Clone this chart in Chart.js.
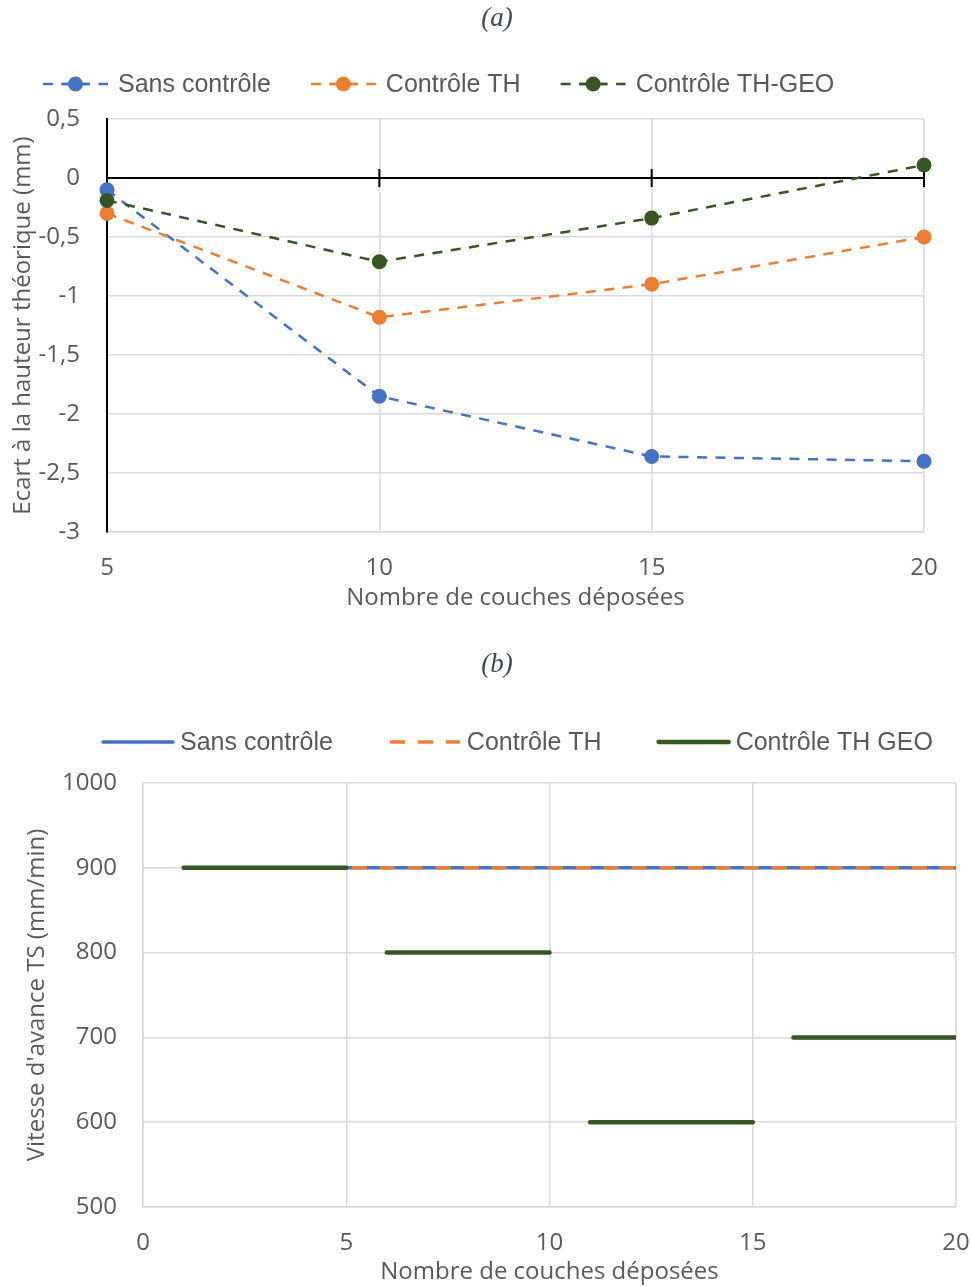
<!DOCTYPE html>
<html lang="fr">
<head>
<meta charset="utf-8">
<script src="https://cdn.jsdelivr.net/npm/chart.js@4.4.1/dist/chart.umd.min.js"></script>
<style>
  html, body { margin: 0; padding: 0; background: #fff; }
  .box { position: absolute; left: 0; width: 972px; }
  #boxA { top: 0; height: 625px; }
  #boxB { top: 625px; height: 662px; }
</style>
</head>
<body>
<div class="box" id="boxA"><canvas id="chartA"></canvas></div>
<div class="box" id="boxB"><canvas id="chartB"></canvas></div>
<script>
// (a) écart à la hauteur théorique, mesuré toutes les 5 couches
const couchesA = [5, 10, 15, 20];
const ecartSans = [-0.1, -1.85, -2.36, -2.4];
const ecartTH = [-0.3, -1.18, -0.9, -0.5];
const ecartTHGEO = [-0.19, -0.71, -0.34, 0.11];

// (b) vitesse d'avance TS par couche
const couchesB = [1, 2, 3, 4, 5, 6, 7, 8, 9, 10, 11, 12, 13, 14, 15, 16, 17, 18, 19, 20];
const vitesseSans = [900, 900, 900, 900, 900, 900, 900, 900, 900, 900, 900, 900, 900, 900, 900, 900, 900, 900, 900, 900];
const vitesseTH = [900, 900, 900, 900, 900, 900, 900, 900, 900, 900, 900, 900, 900, 900, 900, 900, 900, 900, 900, 900];
const vitesseTHGEO = [900, 900, 900, 900, 900, 800, 800, 800, 800, 800, 600, 600, 600, 600, 600, 700, 700, 700, 700, 700];

const BLUE = '#4472C4';
const ORANGE = '#ED7D31';
const GREEN = '#375623';
const GRID = '#D9D9D9';
const TEXT = '#595959';

Chart.defaults.font.family = "'Open Sans', sans-serif";
Chart.defaults.color = TEXT;

const toPoints = (xs, ys) => xs.map((x, i) => ({ x: x, y: ys[i] }));

// sub-figure caption, "(a)" / "(b)"
const caption = {
    id: 'caption',
    afterDraw(chart, args, opts) {
        const ctx = chart.ctx;
        ctx.save();
        ctx.font = opts.font;
        ctx.fillStyle = opts.color;
        ctx.textAlign = 'center';
        ctx.textBaseline = 'middle';
        ctx.fillText(opts.text, opts.x, opts.y);
        ctx.restore();
    }
};

// legend drawn as one row: sample line (+ marker), then label
const legendRow = {
    id: 'legendRow',
    afterDraw(chart, args, opts) {
        const ctx = chart.ctx;
        ctx.save();
        ctx.font = opts.font;
        ctx.textBaseline = 'middle';
        let x = opts.x;
        const y = opts.y;
        chart.data.datasets.forEach(ds => {
            const w = opts.sampleWidth;
            ctx.strokeStyle = ds.borderColor;
            ctx.lineWidth = ds.borderWidth;
            ctx.lineCap = ds.borderDash ? 'butt' : 'round';
            ctx.setLineDash(ds.borderDash || []);
            ctx.beginPath();
            ctx.moveTo(x, y);
            ctx.lineTo(x + w, y);
            ctx.stroke();
            if (ds.pointRadius > 0) {
                ctx.setLineDash([]);
                ctx.beginPath();
                ctx.moveTo(x + w / 2 - 14, y);
                ctx.lineTo(x + w / 2 + 14, y);
                ctx.stroke();
                ctx.fillStyle = ds.borderColor;
                ctx.beginPath();
                ctx.arc(x + w / 2, y, ds.pointRadius, 0, Math.PI * 2);
                ctx.fill();
            }
            x += w + opts.gap;
            ctx.fillStyle = opts.color;
            ctx.fillText(ds.label, x, y + 1.5);
            x += ctx.measureText(ds.label).width + opts.spacing;
        });
        ctx.restore();
    }
};

// black horizontal axis at y = 0 with crossing tick marks
const zeroLine = {
    id: 'zeroLine',
    beforeDatasetsDraw(chart) {
        const { ctx, chartArea, scales: { x, y } } = chart;
        const y0 = y.getPixelForValue(0);
        ctx.save();
        ctx.strokeStyle = '#000';
        ctx.lineWidth = 2;
        ctx.beginPath();
        ctx.moveTo(chartArea.left, y0);
        ctx.lineTo(chartArea.right, y0);
        x.ticks.forEach(t => {
            if (t.value > x.min) {
                const px = x.getPixelForValue(t.value);
                ctx.moveTo(px, y0 - 9);
                ctx.lineTo(px, y0 + 9);
            }
        });
        ctx.stroke();
        ctx.restore();
    }
};

function lineA(label, values, color, order) {
    return {
        label: label,
        data: toPoints(couchesA, values),
        borderColor: color,
        backgroundColor: color,
        borderWidth: 2.5,
        borderDash: [10, 8.5],
        pointRadius: 7.5,
        pointHoverRadius: 7.5,
        pointBorderWidth: 0,
        pointBackgroundColor: color,
        clip: false,
        order: order
    };
}

const captionFont = "italic 27px 'Liberation Serif', serif";

new Chart(document.getElementById('chartA'), {
    type: 'line',
    data: {
        datasets: [
            lineA('Sans contrôle', ecartSans, BLUE, 3),
            lineA('Contrôle TH', ecartTH, ORANGE, 2),
            lineA('Contrôle TH-GEO', ecartTHGEO, GREEN, 1)
        ]
    },
    options: {
        responsive: true,
        maintainAspectRatio: false,
        animation: false,
        layout: { padding: { left: 0, right: 48, top: 119, bottom: 0 } },
        plugins: {
            legend: { display: false },
            tooltip: { enabled: false },
            caption: { text: '(a)', x: 497, y: 19, font: captionFont, color: '#3f4650' },
            legendRow: {
                x: 43, y: 84, sampleWidth: 65, gap: 10, spacing: 40,
                font: "25px 'Liberation Sans', sans-serif", color: TEXT
            }
        },
        scales: {
            x: {
                type: 'linear',
                min: 5,
                max: 20,
                ticks: { stepSize: 5, padding: 22, font: { size: 24 } },
                grid: {
                    color: c => (c.tick && c.tick.value === 5) ? 'rgba(0,0,0,0)' : GRID,
                    lineWidth: 1.5,
                    drawTicks: false
                },
                border: { color: GRID, width: 1.5 },
                title: {
                    display: true,
                    text: 'Nombre de couches déposées',
                    font: { size: 24 },
                    padding: { top: 0, bottom: 12 }
                },
                afterFit: s => { s.height = 93; s.paddingLeft = 0; s.paddingRight = 0; }
            },
            y: {
                min: -3,
                max: 0.5,
                ticks: {
                    stepSize: 0.5,
                    padding: 27,
                    font: { size: 24 },
                    callback: v => String(Math.round(v * 10) / 10).replace('.', ',')
                },
                grid: { color: GRID, lineWidth: 1.5, drawTicks: false },
                border: { color: '#000', width: 2 },
                title: {
                    display: true,
                    text: 'Ecart à la hauteur théorique (mm)',
                    font: { size: 24 },
                    padding: { top: 9, bottom: 0 }
                },
                afterFit: s => { s.width = 107; }
            }
        }
    },
    plugins: [caption, legendRow, zeroLine]
});

new Chart(document.getElementById('chartB'), {
    type: 'line',
    data: {
        datasets: [
            {
                label: 'Sans contrôle',
                data: toPoints(couchesB, vitesseSans),
                borderColor: BLUE,
                borderWidth: 3.5,
                pointRadius: 0,
                order: 3
            },
            {
                label: 'Contrôle TH',
                data: toPoints(couchesB, vitesseTH),
                borderColor: ORANGE,
                borderWidth: 3.5,
                borderDash: [15, 13],
                pointRadius: 0,
                order: 2
            },
            {
                label: 'Contrôle TH GEO',
                data: toPoints(couchesB, vitesseTHGEO),
                borderColor: GREEN,
                borderWidth: 4.5,
                borderCapStyle: 'round',
                pointRadius: 0,
                order: 1,
                // each speed level is its own segment, no joining step
                segment: {
                    borderColor: c => c.p0.parsed.y !== c.p1.parsed.y ? 'rgba(0,0,0,0)' : GREEN
                }
            }
        ]
    },
    options: {
        responsive: true,
        maintainAspectRatio: false,
        animation: false,
        layout: { padding: { left: 0, right: 16, top: 158, bottom: 0 } },
        plugins: {
            legend: { display: false },
            tooltip: { enabled: false },
            caption: { text: '(b)', x: 497, y: 40, font: captionFont, color: '#3f4650' },
            legendRow: {
                x: 103, y: 117, sampleWidth: 70, gap: 7, spacing: 57,
                font: "25px 'Liberation Sans', sans-serif", color: TEXT
            }
        },
        scales: {
            x: {
                type: 'linear',
                min: 0,
                max: 20,
                ticks: { stepSize: 5, padding: 22, font: { size: 24 } },
                grid: { color: GRID, lineWidth: 1.5, drawTicks: false },
                border: { color: GRID, width: 1.5 },
                title: {
                    display: true,
                    text: 'Nombre de couches déposées',
                    font: { size: 24 },
                    padding: { top: 0, bottom: 0 }
                },
                afterFit: s => { s.height = 80; s.paddingLeft = 0; s.paddingRight = 0; }
            },
            y: {
                min: 500,
                max: 1000,
                ticks: { stepSize: 100, padding: 26, font: { size: 24 }, callback: v => String(v) },
                grid: { color: GRID, lineWidth: 1.5, drawTicks: false },
                border: { color: GRID, width: 1.5 },
                title: {
                    display: true,
                    text: "Vitesse d'avance TS (mm/min)",
                    font: { size: 24 },
                    padding: { top: 23, bottom: 0 }
                },
                afterFit: s => { s.width = 143; }
            }
        }
    },
    plugins: [caption, legendRow]
});
</script>
</body>
</html>
